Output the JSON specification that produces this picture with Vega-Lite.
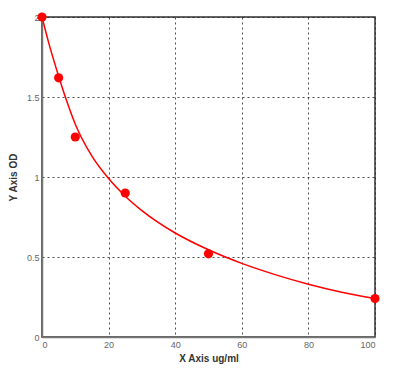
{
  "$schema": "https://vega.github.io/schema/vega-lite/v6.json",
  "width": 333,
  "height": 320,
  "autosize": {"type": "none"},
  "padding": {"left": 42, "top": 17, "right": 37, "bottom": 38},
  "background": "white",
  "config": {
    "view": {"stroke": "#333333", "strokeWidth": 1.5},
    "axis": {
      "grid": true,
      "gridColor": "#222222",
      "gridDash": [2, 3],
      "gridOpacity": 0.8,
      "gridWidth": 1,
      "domainColor": "#777777",
      "domainWidth": 1.5,
      "tickSize": 0,
      "labelColor": "#666666",
      "labelFont": "Liberation Sans",
      "labelFontSize": 9,
      "titleFont": "Liberation Sans",
      "titleFontSize": 10,
      "titleFontWeight": "bold",
      "titleColor": "#333333"
    }
  },
  "datasets": {
    "curve": [
      {"x": 0, "y": 2.0}, {"x": 2, "y": 1.84}, {"x": 5, "y": 1.63}, {"x": 7.5, "y": 1.47},
      {"x": 10, "y": 1.33}, {"x": 15, "y": 1.13}, {"x": 20, "y": 0.99}, {"x": 25, "y": 0.88},
      {"x": 30, "y": 0.79}, {"x": 40, "y": 0.65}, {"x": 50, "y": 0.545}, {"x": 60, "y": 0.46},
      {"x": 70, "y": 0.39}, {"x": 80, "y": 0.33}, {"x": 90, "y": 0.28}, {"x": 100, "y": 0.24}
    ],
    "points": [
      {"x": 0, "y": 2.0}, {"x": 5, "y": 1.62}, {"x": 10, "y": 1.25},
      {"x": 25, "y": 0.9}, {"x": 50, "y": 0.52}, {"x": 100, "y": 0.24}
    ]
  },
  "layer": [
    {
      "data": {"name": "curve"},
      "mark": {"type": "line", "color": "#ff0000", "strokeWidth": 1.5, "interpolate": "monotone", "clip": false},
      "encoding": {
        "x": {"field": "x", "type": "quantitative", "scale": {"domain": [0, 100], "nice": false},
              "axis": {"values": [0, 20, 40, 60, 80, 100], "format": "d", "title": "X Axis ug/ml", "titlePadding": 4, "labelPadding": 3}},
        "y": {"field": "y", "type": "quantitative", "scale": {"domain": [0, 2], "nice": false},
              "axis": {"values": [0, 0.5, 1, 1.5, 2], "format": "~g", "title": "Y Axis OD", "titlePadding": 8, "labelPadding": 3}}
      }
    },
    {
      "data": {"name": "points"},
      "mark": {"type": "circle", "color": "#ff0000", "opacity": 1, "size": 85, "clip": false},
      "encoding": {
        "x": {"field": "x", "type": "quantitative"},
        "y": {"field": "y", "type": "quantitative"}
      }
    }
  ]
}
